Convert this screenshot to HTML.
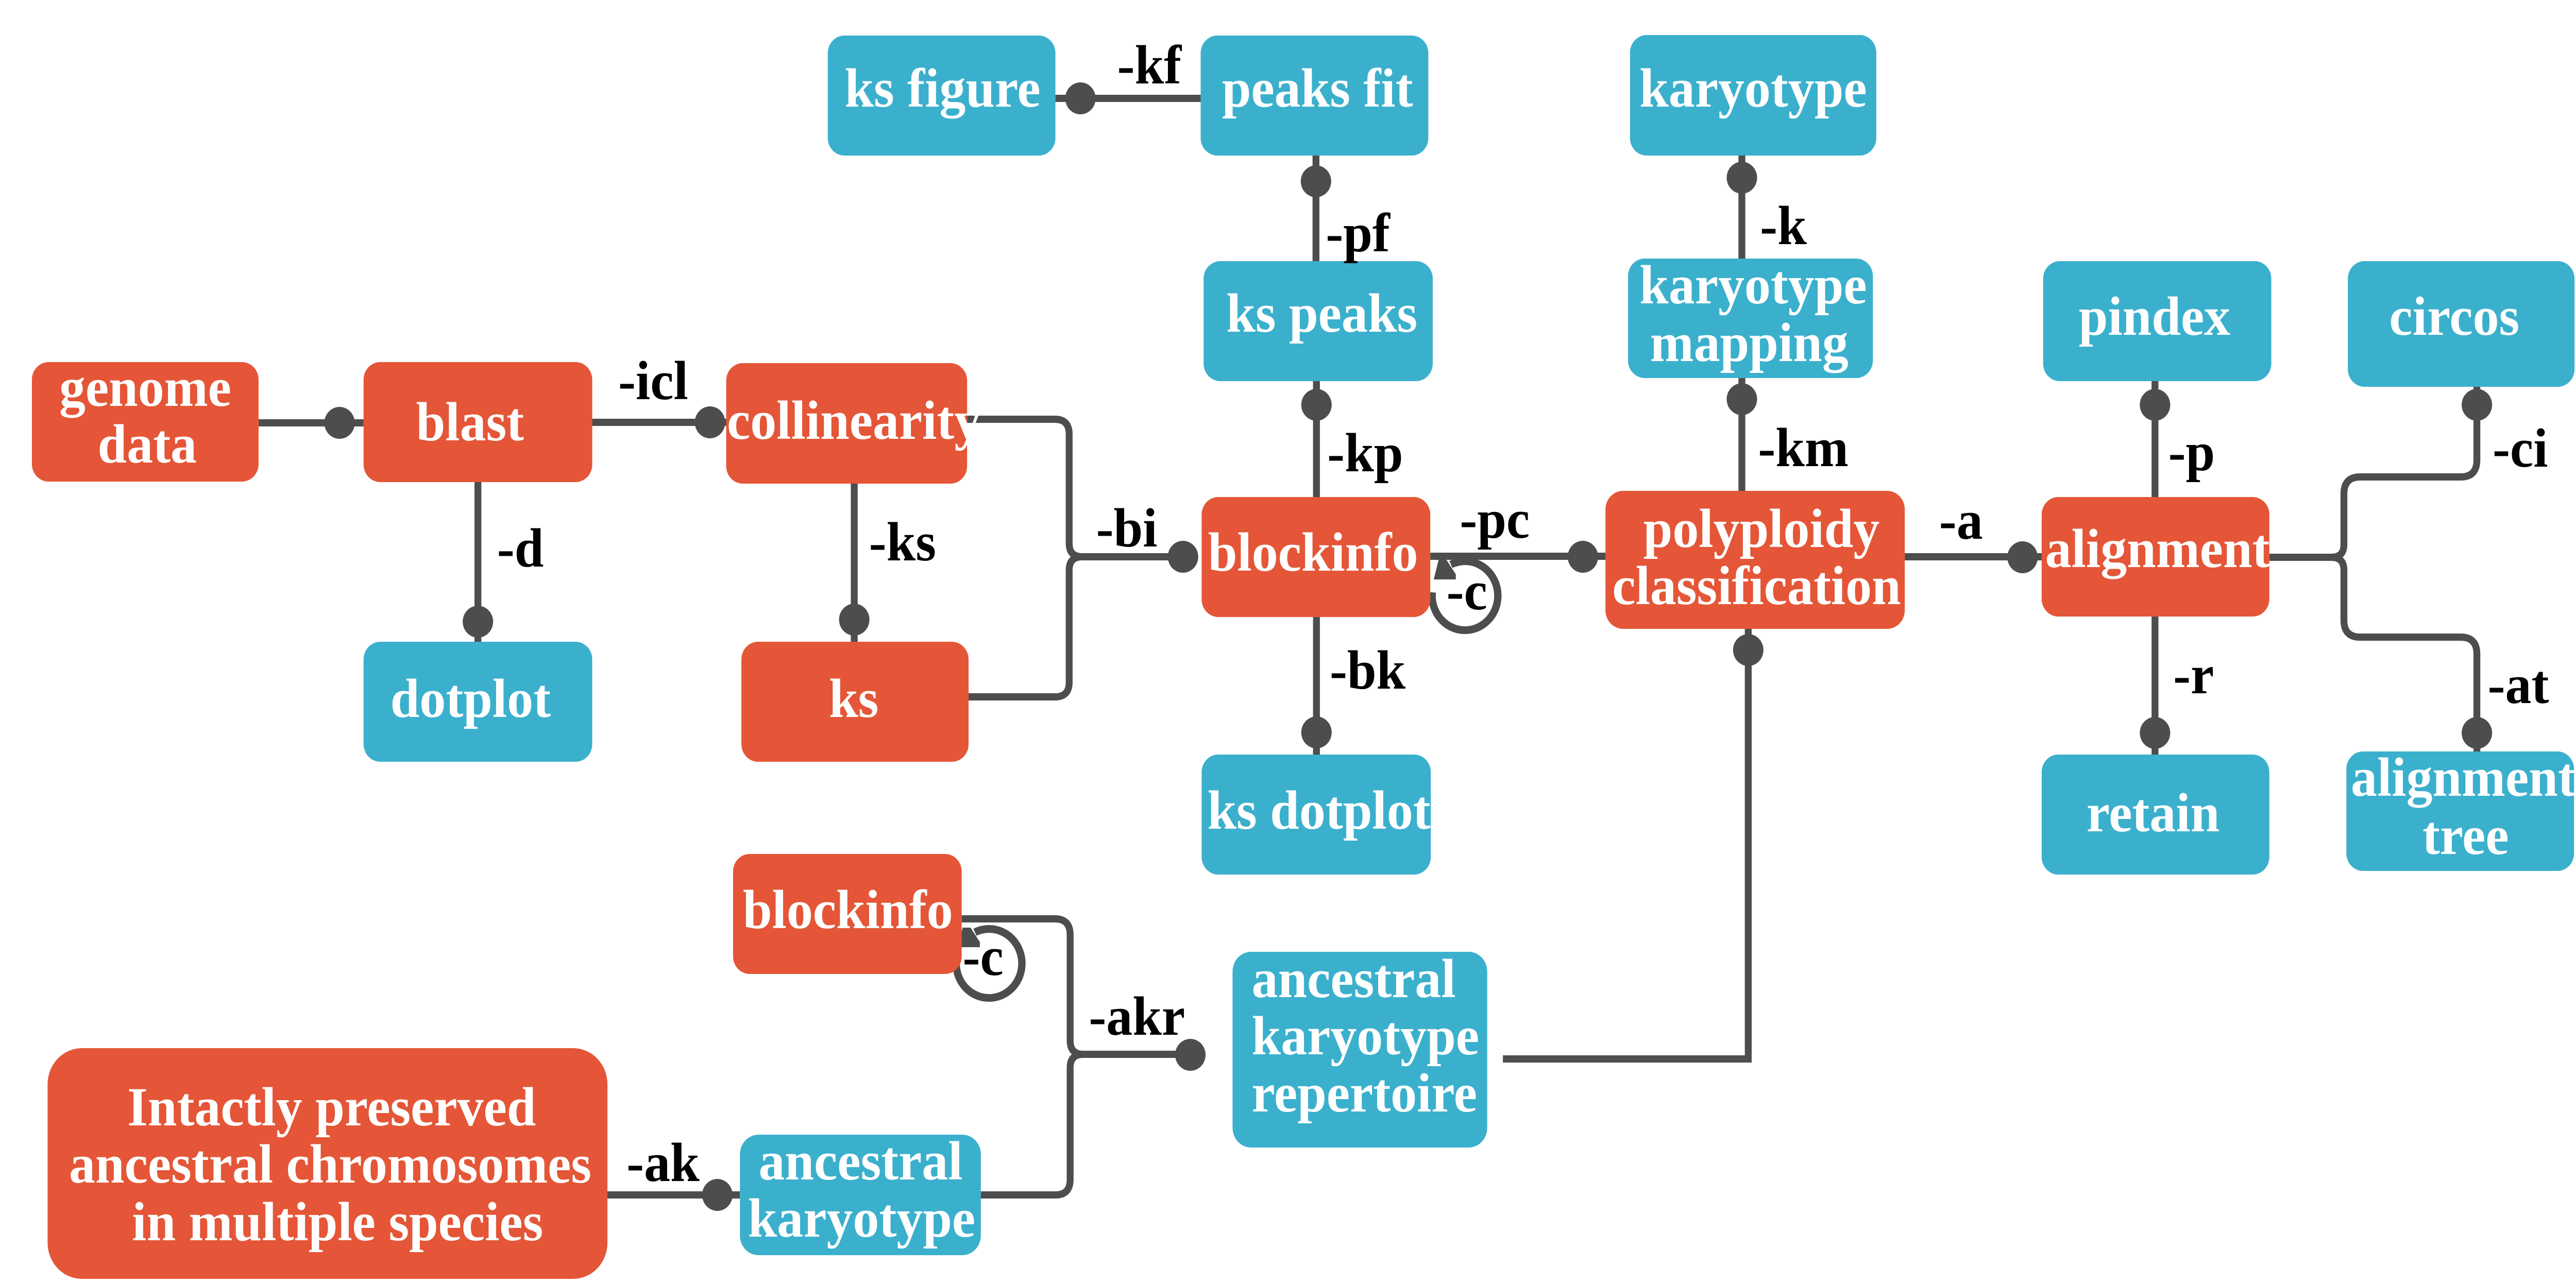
<!DOCTYPE html>
<html>
<head>
<meta charset="utf-8">
<style>
  html, body { margin: 0; padding: 0; background: #ffffff; width: 100%; height: 100%; overflow: hidden; }
  svg { display: block; position: fixed; left: 0; top: 0; width: 100vw; height: 100vh; }
  .n { font-family: "Liberation Serif", "Times New Roman", serif; font-weight: bold; font-size: 107px; fill: #ffffff; }
  .l { font-family: "Liberation Serif", "Times New Roman", serif; font-weight: bold; font-size: 107px; fill: #000000; }
  .ln { fill: none; stroke: #4d4d4d; stroke-width: 14; }
  .dot { fill: #4d4d4d; }
  .r { fill: #E45637; }
  .b { fill: #3BB0CD; }
</style>
</head>
<body>
<svg width="5250" height="2491" viewBox="0 0 5250 2491" preserveAspectRatio="none" xmlns="http://www.w3.org/2000/svg">
  <rect x="0" y="0" width="5250" height="2491" fill="#ffffff"/>

  <!-- connectors -->
  <path class="ln" d="M527,821 H741"/>
  <path class="ln" d="M1207,820 H1480"/>
  <path class="ln" d="M974,936 V1246"/>
  <path class="ln" d="M1741,939 V1246"/>
  <!-- bi brace -->
  <path class="ln" d="M1971,814 H2150 Q2179,814 2179,843 V1055 Q2179,1081 2205,1081 H2411"/>
  <path class="ln" d="M2205,1081 Q2179,1081 2179,1107 V1325 Q2179,1353 2150,1353 H1974"/>
  <!-- blockinfo vertical -->
  <path class="ln" d="M2683,965 V740"/>
  <path class="ln" d="M2682,507 V302"/>
  <path class="ln" d="M2447,191 H2151"/>
  <path class="ln" d="M2683,1198 V1465"/>
  <path class="ln" d="M2915,1080 H3272"/>
  <!-- karyotype -->
  <path class="ln" d="M3550,953 V734"/>
  <path class="ln" d="M3550,502 V302"/>
  <!-- alignment -->
  <path class="ln" d="M3882,1081 H4161"/>
  <path class="ln" d="M4392,965 V740"/>
  <path class="ln" d="M4392,1197 V1465"/>
  <path class="ln" d="M4625,1082 H4752 Q4777,1082 4777,1057 V959 Q4777,926 4810,926 H5015 Q5048,926 5048,893 V751"/>
  <path class="ln" d="M4752,1082 Q4777,1082 4777,1107 V1204 Q4777,1237 4810,1237 H5015 Q5048,1237 5048,1270 V1459"/>
  <!-- repertoire to polyploidy -->
  <path class="ln" d="M3063,2056 H3563 V1221" stroke-linejoin="miter"/>
  <!-- akr brace -->
  <path class="ln" d="M1960,1784 H2150 Q2181,1784 2181,1815 V2020 Q2181,2047 2207,2047 H2426"/>
  <path class="ln" d="M2207,2047 Q2181,2047 2181,2073 V2290 Q2181,2320 2151,2320 H1999"/>
  <!-- ak -->
  <path class="ln" d="M1237,2320 H1508"/>

  <!-- self loops -->
  <g transform="translate(2986,1156)">
    <path d="M-67,-6 A67,67 0 1 0 -29,-60" fill="none" stroke="#4d4d4d" stroke-width="15"/>
    <polygon points="-54,-69 -38,-69 -19,-41 -19,-31 -64,-31" fill="#4d4d4d"/>
  </g>
  <g transform="translate(2016,1870)">
    <path d="M-67,-6 A67,67 0 1 0 -29,-60" fill="none" stroke="#4d4d4d" stroke-width="15"/>
    <polygon points="-54,-69 -38,-69 -19,-41 -19,-31 -64,-31" fill="#4d4d4d"/>
  </g>

  <!-- dots -->
  <circle class="dot" cx="692" cy="821" r="31"/>
  <circle class="dot" cx="1447" cy="820" r="31"/>
  <circle class="dot" cx="974" cy="1207" r="31"/>
  <circle class="dot" cx="1741" cy="1203" r="31"/>
  <circle class="dot" cx="2411" cy="1081" r="31"/>
  <circle class="dot" cx="2683" cy="786" r="31"/>
  <circle class="dot" cx="2682" cy="352" r="31"/>
  <circle class="dot" cx="2202" cy="191" r="31"/>
  <circle class="dot" cx="2683" cy="1422" r="31"/>
  <circle class="dot" cx="3226" cy="1081" r="31"/>
  <circle class="dot" cx="3550" cy="775" r="31"/>
  <circle class="dot" cx="3550" cy="345" r="31"/>
  <circle class="dot" cx="4122" cy="1082" r="31"/>
  <circle class="dot" cx="4392" cy="786" r="31"/>
  <circle class="dot" cx="4392" cy="1423" r="31"/>
  <circle class="dot" cx="5048" cy="786" r="31"/>
  <circle class="dot" cx="5048" cy="1423" r="31"/>
  <circle class="dot" cx="3563" cy="1262" r="31"/>
  <circle class="dot" cx="2426" cy="2048" r="31"/>
  <circle class="dot" cx="1462" cy="2320" r="31"/>

  <!-- nodes -->
  <rect class="r" x="65" y="703" width="462" height="232" rx="34" ry="34"/>
  <rect class="r" x="741" y="703" width="466" height="233" rx="34" ry="34"/>
  <rect class="r" x="1480" y="705" width="491" height="234" rx="34" ry="34"/>
  <rect class="b" x="741" y="1246" width="466" height="233" rx="34" ry="34"/>
  <rect class="r" x="1511" y="1246" width="463" height="233" rx="34" ry="34"/>
  <rect class="b" x="1687" y="69" width="464" height="233" rx="34" ry="34"/>
  <rect class="b" x="2447" y="69" width="464" height="233" rx="34" ry="34"/>
  <rect class="b" x="3322" y="68" width="502" height="234" rx="34" ry="34"/>
  <rect class="b" x="2453" y="507" width="467" height="233" rx="34" ry="34"/>
  <rect class="b" x="3318" y="502" width="499" height="232" rx="34" ry="34"/>
  <rect class="r" x="2449" y="965" width="466" height="233" rx="34" ry="34"/>
  <rect class="b" x="2449" y="1465" width="467" height="233" rx="34" ry="34"/>
  <rect class="r" x="3272" y="953" width="610" height="268" rx="36" ry="36"/>
  <rect class="r" x="4161" y="965" width="464" height="232" rx="34" ry="34"/>
  <rect class="b" x="4164" y="507" width="465" height="233" rx="34" ry="34"/>
  <rect class="b" x="4785" y="507" width="462" height="244" rx="34" ry="34"/>
  <rect class="b" x="4161" y="1465" width="464" height="233" rx="34" ry="34"/>
  <rect class="b" x="4782" y="1459" width="464" height="232" rx="34" ry="34"/>
  <rect class="r" x="1494" y="1658" width="466" height="233" rx="34" ry="34"/>
  <rect class="r" x="97" y="2035" width="1141" height="448" rx="70" ry="70"/>
  <rect class="b" x="1508" y="2203" width="491" height="234" rx="38" ry="38"/>
  <rect class="b" x="2512" y="1848" width="519" height="380" rx="38" ry="38"/>

  <!-- node text -->
  <text class="n" x="296" y="788" text-anchor="middle">genome</text>
  <text class="n" x="300" y="898" text-anchor="middle">data</text>
  <text class="n" x="958" y="855" text-anchor="middle">blast</text>
  <text class="n" x="1740" y="852" text-anchor="middle">collinearity</text>
  <text class="n" x="959" y="1392" text-anchor="middle">dotplot</text>
  <text class="n" x="1740" y="1392" text-anchor="middle">ks</text>
  <text class="n" x="1921" y="207" text-anchor="middle">ks figure</text>
  <text class="n" x="2685" y="207" text-anchor="middle">peaks fit</text>
  <text class="n" x="3573" y="207" text-anchor="middle">karyotype</text>
  <text class="n" x="2694" y="644" text-anchor="middle">ks peaks</text>
  <text class="n" x="3573" y="589" text-anchor="middle">karyotype</text>
  <text class="n" x="3565" y="701" text-anchor="middle">mapping</text>
  <text class="n" x="2676" y="1108" text-anchor="middle">blockinfo</text>
  <text class="n" x="2688" y="1609" text-anchor="middle">ks dotplot</text>
  <text class="n" x="3590" y="1062" text-anchor="middle">polyploidy</text>
  <text class="n" x="3580" y="1173" text-anchor="middle">classification</text>
  <text class="n" x="4397" y="1101" text-anchor="middle">alignment</text>
  <text class="n" x="4391" y="650" text-anchor="middle">pindex</text>
  <text class="n" x="5002" y="650" text-anchor="middle">circos</text>
  <text class="n" x="4388" y="1614" text-anchor="middle">retain</text>
  <text class="n" x="5020" y="1545" text-anchor="middle">alignment</text>
  <text class="n" x="5025" y="1658" text-anchor="middle">tree</text>
  <text class="n" x="1728" y="1802" text-anchor="middle">blockinfo</text>
  <text class="n" x="676" y="2185" text-anchor="middle">Intactly preserved</text>
  <text class="n" x="673" y="2296" text-anchor="middle">ancestral chromosomes</text>
  <text class="n" x="688" y="2408" text-anchor="middle">in multiple species</text>
  <text class="n" x="1754" y="2290" text-anchor="middle">ancestral</text>
  <text class="n" x="1756" y="2401" text-anchor="middle">karyotype</text>
  <text class="n" x="2551" y="1936">ancestral</text>
  <text class="n" x="2551" y="2047">karyotype</text>
  <text class="n" x="2551" y="2158">repertoire</text>

  <!-- edge labels -->
  <text class="l" x="1260" y="775">-icl</text>
  <text class="l" x="1013" y="1100">-d</text>
  <text class="l" x="1771" y="1088">-ks</text>
  <text class="l" x="2277" y="162">-kf</text>
  <text class="l" x="2702" y="488">-pf</text>
  <text class="l" x="3587" y="474">-k</text>
  <text class="l" x="2705" y="915">-kp</text>
  <text class="l" x="3583" y="905">-km</text>
  <text class="l" x="2234" y="1061">-bi</text>
  <text class="l" x="2975" y="1044">-pc</text>
  <text class="l" x="2948" y="1183">-c</text>
  <text class="l" x="2710" y="1337">-bk</text>
  <text class="l" x="3952" y="1046">-a</text>
  <text class="l" x="4419" y="913">-p</text>
  <text class="l" x="5080" y="906">-ci</text>
  <text class="l" x="4429" y="1346">-r</text>
  <text class="l" x="5070" y="1365">-at</text>
  <text class="l" x="2219" y="2009">-akr</text>
  <text class="l" x="1277" y="2293">-ak</text>
  <text class="l" x="1962" y="1893">-c</text>
</svg>
</body>
</html>
